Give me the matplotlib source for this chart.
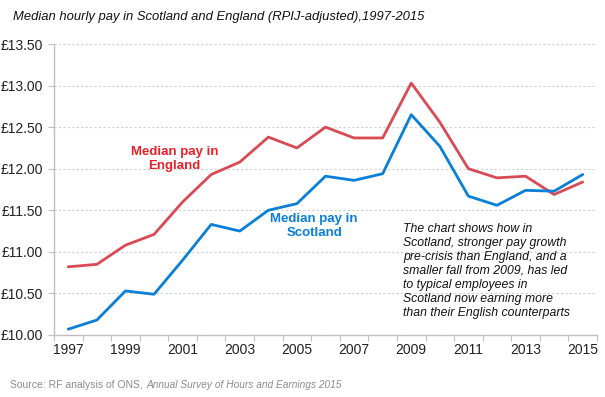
import matplotlib
matplotlib.use("Agg")
import matplotlib.pyplot as plt
import numpy as np

years = list(range(1997, 2016))
england = [10.82, 10.85, 11.08, 11.21, 11.60, 11.93, 12.08, 12.38, 12.25, 12.50,
           12.37, 12.37, 13.03, 12.56, 12.00, 11.89, 11.91, 11.69, 11.84]
scotland = [10.07, 10.18, 10.53, 10.49, 10.90, 11.33, 11.25, 11.50, 11.58, 11.91,
            11.86, 11.94, 12.65, 12.27, 11.67, 11.56, 11.74, 11.73, 11.93]
ytick_vals = [10.0, 10.5, 11.0, 11.5, 12.0, 12.5, 13.0, 13.5]
xtick_labels = [str(y) for y in years[::2]]

plt.rcParams['font.family'] = ['Liberation Sans', 'DejaVu Sans']

fig = plt.figure(figsize=(6.05, 3.97), dpi=100)
ax = fig.add_axes([54/605, 1-335/397, (597-54)/605, (335-44)/397])

x = np.arange(len(years))
ax.plot(x, england, color='#D94A55', lw=2.0, solid_capstyle='round', zorder=3)
ax.plot(x, scotland, color='#0A7FD6', lw=2.0, solid_capstyle='round', zorder=3)

ax.set_xlim(-0.5, len(years) - 0.5)
ax.set_ylim(10.0, 13.5)
ax.set_yticks(ytick_vals)
ax.set_yticklabels([f"£{v:.2f}" for v in ytick_vals], fontsize=10, color='#222222')
ax.set_xticks(x[::2])
ax.set_xticklabels(xtick_labels, fontsize=10, color='#222222')
ax.set_xticks(np.arange(-0.5, len(years), 1), minor=True)
ax.tick_params(axis='x', which='major', length=0, pad=6)
ax.tick_params(axis='x', which='minor', length=4, color='#BFBFBF', width=0.8)
ax.tick_params(axis='y', length=4, color='#BFBFBF', width=0.8, pad=4)

for s in ['top', 'right']:
    ax.spines[s].set_visible(False)
for s in ['left', 'bottom']:
    ax.spines[s].set_color('#BFBFBF')
    ax.spines[s].set_linewidth(1.0)

ax.yaxis.grid(True, color='#D0D0D0', linestyle=(0, (2, 2)), lw=0.8)
ax.set_axisbelow(True)

fig.text(13/605, 1-17/397, "Median hourly pay in Scotland and England (RPIJ-adjusted),1997-2015",
         fontsize=9.4, style='italic', ha='left', va='center', color='#111111')

ax.text(3.71, 12.12, "Median pay in\nEngland", color='#E8202A', fontsize=9.5,
        fontweight='bold', ha='center', va='center', linespacing=1.2)
ax.text(8.6, 11.31, "Median pay in\nScotland", color='#0A7FD6', fontsize=9.5,
        fontweight='bold', ha='center', va='center', linespacing=1.2)

fig.text(403/605, 1-223/397,
        "The chart shows how in\nScotland, stronger pay growth\npre-crisis than England, and a\n"
        "smaller fall from 2009, has led\nto typical employees in\n"
        "Scotland now earning more\nthan their English counterparts",
        fontsize=8.8, style='italic', ha='left', va='top', color='#111111', linespacing=1.22)

t1 = fig.text(10/605, 1-385/397, "Source: RF analysis of ONS, ", fontsize=7.5, color='#8C8C8C',
              ha='left', va='center')
fig.canvas.draw()
bb = t1.get_window_extent(renderer=fig.canvas.get_renderer())
fig.text(bb.x1 / fig.bbox.width + 1/605, 1-385/397, "Annual Survey of Hours and Earnings 2015",
         fontsize=7.3, color='#8C8C8C', style='italic', ha='left', va='center')

fig.savefig("out.png", dpi=100)
